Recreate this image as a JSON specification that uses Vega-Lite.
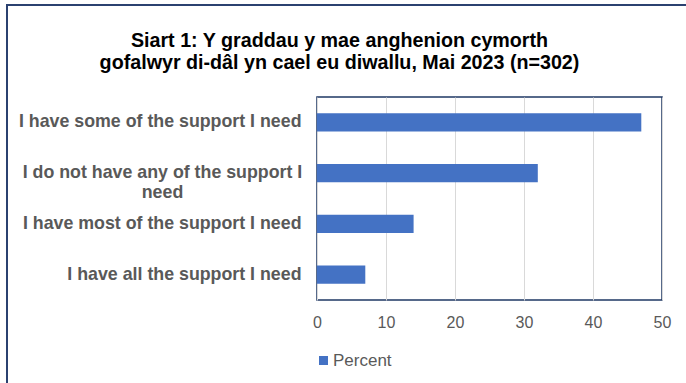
{
  "$schema": "https://vega.github.io/schema/vega-lite/v6.json",
  "width": 345,
  "height": 203,
  "autosize": {"type": "none"},
  "padding": {"left": 317, "top": 97, "right": 24, "bottom": 83},
  "background": "white",
  "title": {
    "text": ["Siart 1: Y graddau y mae anghenion cymorth", "gofalwyr di-dâl yn cael eu diwallu, Mai 2023 (n=302)"],
    "anchor": "middle",
    "frame": "group",
    "dx": -150,
    "offset": -69,
    "font": "Liberation Sans",
    "fontSize": 19.7,
    "fontWeight": "bold",
    "color": "#000000",
    "lineHeight": 22
  },
  "data": {
    "values": [
      {"response": "I have some of the support I need", "percent": 47},
      {"response": "I do not have any of the support I need", "percent": 32},
      {"response": "I have most of the support I need", "percent": 14},
      {"response": "I have all the support I need", "percent": 7}
    ]
  },
  "mark": {"type": "bar", "color": "#4472C4", "strokeWidth": 0},
  "encoding": {
    "y": {
      "field": "response",
      "type": "nominal",
      "sort": null,
      "scale": {"paddingInner": 0.645, "paddingOuter": 0.3225},
      "axis": {
        "title": null,
        "ticks": false,
        "domain": false,
        "labelFont": "Liberation Sans",
        "labelFontSize": 17.8,
        "labelFontWeight": "bold",
        "labelColor": "#595959",
        "labelLimit": 0,
        "labelLineHeight": 20,
        "labelAlign": {"condition": {"test": "datum.value == 'I do not have any of the support I need'", "value": "center"}, "value": "right"},
        "labelPadding": {"condition": {"test": "datum.value == 'I do not have any of the support I need'", "value": 155}, "value": 16},
        "labelExpr": "datum.label == 'I do not have any of the support I need' ? ['I do not have any of the support I', 'need'] : datum.label"
      }
    },
    "x": {
      "field": "percent",
      "type": "quantitative",
      "scale": {"domain": [0, 50], "nice": false},
      "axis": {
        "title": null,
        "ticks": false,
        "domain": false,
        "values": [0, 10, 20, 30, 40, 50],
        "grid": true,
        "gridColor": "#d9d9d9",
        "gridWidth": 1,
        "labelOverlap": false,
        "labelFlush": false,
        "labelBound": false,
        "labelFont": "Liberation Sans",
        "labelFontSize": 16,
        "labelColor": "#595959",
        "labelPadding": 14
      }
    },
    "stroke": {
      "field": "percent",
      "type": "quantitative",
      "scale": {"range": ["#4472C4", "#4472C4"]},
      "legend": {
        "type": "gradient",
        "title": null,
        "orient": "none",
        "direction": "horizontal",
        "legendX": -310,
        "legendY": -92,
        "padding": 0,
        "gradientLength": 700,
        "gradientThickness": 400,
        "gradientOpacity": 0,
        "gradientStrokeWidth": 0,
        "labelExpr": "''",
        "labelOpacity": 0,
        "labelFontSize": 1,
        "strokeColor": "#2B4170",
        "encode": {"legend": {"update": {"strokeWidth": {"value": 2}}}}
      }
    },
    "color": {
      "datum": "Percent",
      "type": "nominal",
      "scale": {"range": ["#4472C4"]},
      "legend": {
        "title": null,
        "orient": "none",
        "legendX": -2,
        "legendY": 255,
        "padding": 0,
        "symbolType": "square",
        "symbolSize": 81,
        "symbolStrokeWidth": 0,
        "labelFont": "Liberation Sans",
        "labelFontSize": 17,
        "labelColor": "#595959",
        "labelOffset": 1
      }
    }
  },
  "config": {
    "view": {"stroke": "#1F3864", "strokeWidth": 1.5}
  }
}
